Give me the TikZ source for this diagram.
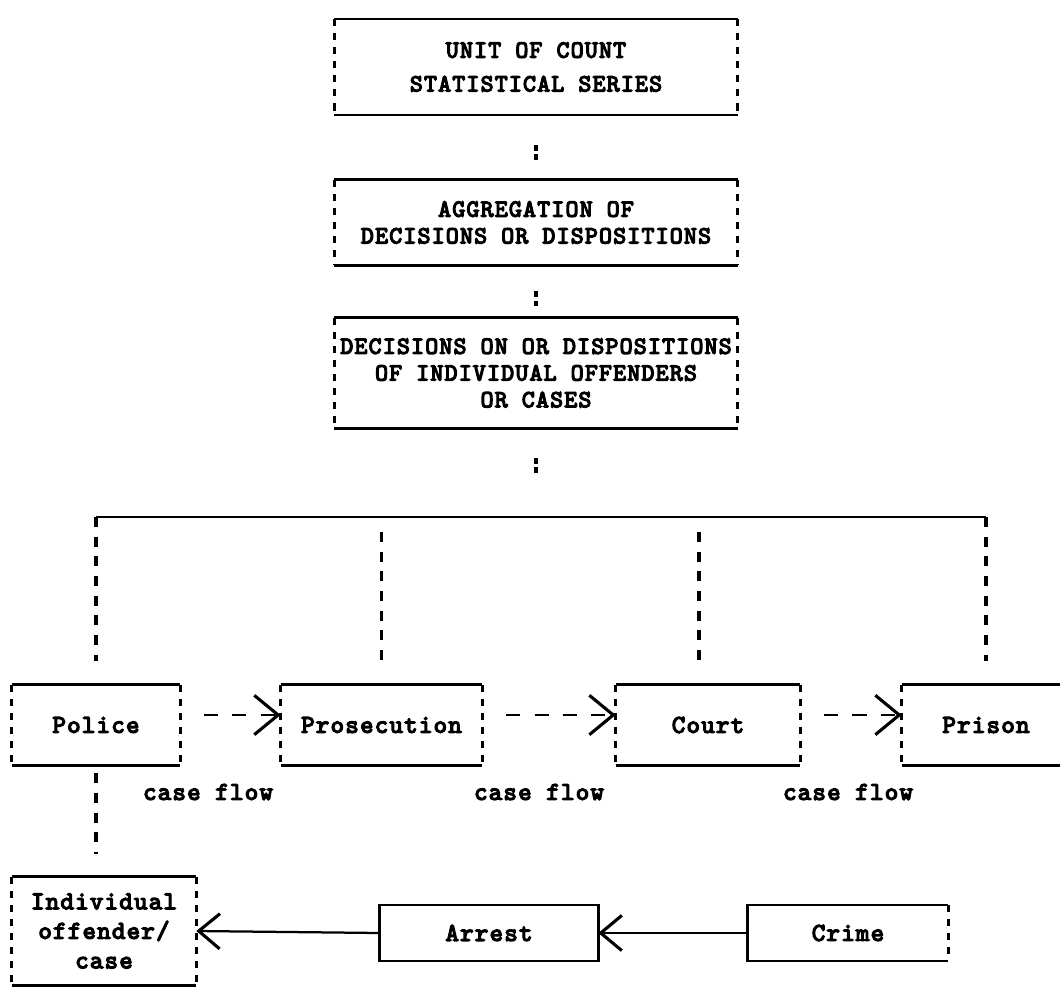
\documentclass[tikz,border=0pt]{standalone}
\usepackage{fontspec}
\setmonofont{lmmono10-regular.otf}[FakeBold=5, LetterSpace=5]
\usetikzlibrary{arrows.meta, positioning}

\tikzset{
  box/.style={inner sep=0pt, align=center,
    font=\ttfamily\fontsize{17.5}{19}\selectfont},
  lowbox/.style={box, font=\ttfamily\fontsize{18.2}{19}\selectfont},
  lbl/.style={inner sep=0pt, font=\ttfamily\fontsize{18.2}{19}\selectfont},
  edge/.style={line width=1.8pt},
  side/.style={line width=2.2pt, dash pattern=on 5pt off 5pt},
  bus/.style={line width=2.2pt, dash pattern=on 7pt off 7pt},
  dots/.style={line width=2.2pt, dash pattern=on 4pt off 2.5pt},
  flow/.style={line width=1.8pt, dash pattern=on 10pt off 10pt,
    -{Straight Barb[length=17pt, width=28pt, line width=2.2pt]}},
  hit/.style={line width=1.6pt,
    -{Straight Barb[length=15pt, width=25pt, line width=2.2pt]}}
}

\begin{document}
\begin{tikzpicture}[x=0.025cm, y=-0.025cm]
  \useasboundingbox (0,0) rectangle (1060,987);

  % upper chain
  \node[box, minimum width=10.08cm, minimum height=2.38cm] (unit) at (536,67)
    {UNIT OF COUNT\\[5pt]STATISTICAL SERIES};
  \node[box, minimum width=10.08cm, minimum height=2.13cm] (aggr) at (536,222.5)
    {AGGREGATION OF\\DECISIONS OR DISPOSITIONS};
  \node[box, minimum width=10.08cm, minimum height=2.75cm] (decis) at (536,373)
    {DECISIONS ON OR DISPOSITIONS\\OF INDIVIDUAL OFFENDERS\\OR CASES};

  % agencies
  \node[lowbox, minimum width=4.2cm, minimum height=2cm] (police) at (96,725) {Police};
  \node[lowbox, minimum width=5.03cm, minimum height=2cm] (prosec) at (381.5,725) {Prosecution};
  \node[lowbox, minimum width=4.6cm, minimum height=2cm] (court) at (708,725) {Court};
  \node[lowbox, minimum width=4.2cm, minimum height=2cm] (prison) at (986,725) {Prison};

  % bottom row
  \node[lowbox, minimum width=4.6cm, minimum height=2.7cm] (offender) at (104,931)
    {Individual\\[2pt]offender/\\[2pt]case};
  \node[lowbox, minimum width=5.45cm, minimum height=1.38cm] (arrest) at (489,933) {Arrest};
  \node[lowbox, minimum width=5cm, minimum height=1.38cm] (crime) at (848,933) {Crime};

  \foreach \n in {unit, aggr, decis, police, prosec, court, prison, offender} {
    \draw[edge] (\n.north west) -- (\n.north east);
    \draw[edge] (\n.south west) -- (\n.south east);
    \draw[side] (\n.north west) -- (\n.south west);
    \draw[side] (\n.north east) -- (\n.south east);
  }
  \draw[edge] (arrest.north west) rectangle (arrest.south east);
  \draw[edge] (crime.north east) -- (crime.north west) -- (crime.south west) -- (crime.south east);
  \draw[side] (crime.north east) -- (crime.south east);

  % links between levels
  \draw[dots] ([yshift=-0.75cm]unit.south) -- ([yshift=0.45cm]aggr.north);
  \draw[dots] ([yshift=-0.65cm]aggr.south) -- ([yshift=0.3cm]decis.north);
  \draw[dots] ([yshift=-0.75cm]decis.south) -- ([yshift=-1.15cm]decis.south);

  \coordinate (busl) at (96,517);
  \coordinate (busr) at (986,517);
  \coordinate (tapb) at (381.5,532);
  \coordinate (tapc) at (699,532);
  \draw[edge] (busl) -- (busr);
  \draw[bus] (busl) -- ([yshift=0.6cm]police.north);
  \draw[bus] (tapb) -- ([yshift=0.6cm]prosec.north);
  \draw[bus] (tapc) -- ([yshift=0.6cm]court.north -| tapc);
  \draw[bus] (busr) -- ([yshift=0.6cm]prison.north);

  % case flow
  \draw[flow] ([shift={(0.6cm,0.25cm)}]police.east) -- ([yshift=0.25cm]prosec.west);
  \draw[flow] ([shift={(0.6cm,0.25cm)}]prosec.east) -- ([yshift=0.25cm]court.west);
  \draw[flow] ([shift={(0.6cm,0.25cm)}]court.east) -- ([yshift=0.25cm]prison.west);
  \node[lbl] (flowa) at (208,792) {case flow};
  \node[lbl] (flowb) at (539,792) {case flow};
  \node[lbl] (flowc) at (848,792) {case flow};

  \draw[bus] ([yshift=-0.2cm]police.south) -- ([yshift=0.575cm]offender.north -| police.south);

  \draw[hit] (arrest.west) -- (offender.east);
  \draw[hit] (crime.west) -- (arrest.east);
\end{tikzpicture}
\end{document}
